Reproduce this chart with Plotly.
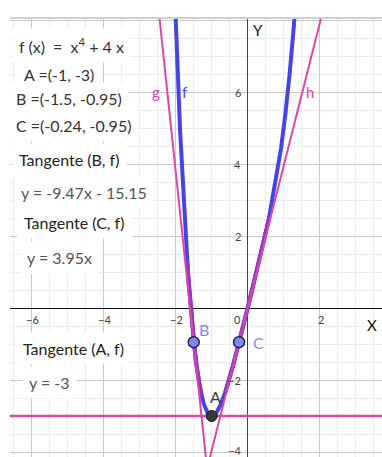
import numpy as np
import plotly.graph_objects as go

# ---- data ----
f_coef = [1, 0, 0, 4, 0]          # f(x) = x^4 + 4x
g_line = (-9.47, -15.15)          # Tangente(B, f): y = -9.47x - 15.15
h_line = (3.95, 0.0)              # Tangente(C, f): y = 3.95x
tA_line = (0.0, -3.0)             # Tangente(A, f): y = -3
pt_names = ["A", "B", "C"]
pt_x = [-1.0, -1.5, -0.24]
pt_y = [-3.0, -0.95, -0.95]
x_ticks = [-6, -4, -2, 0, 2]
y_ticks = [-4, -2, 2, 4, 6]
purple_ranges = [(-1.685, -1.28), (-0.62, 0.6)]

W, H = 382, 457
L, R, T, B = 10, 0, 18, 0
SCALE = 36.0
X0PIX, Y0PIX = 247.7, 308.0
xmin = -(X0PIX - L) / SCALE
xmax = xmin + (W - L - R) / SCALE
ymax = (Y0PIX - T) / SCALE
ymin = ymax - (H - T - B) / SCALE

BLUE = "#4545e6"
PURPLE = "#8a35cc"
PINK = "#dc46a6"
FONT = "Lato, sans-serif"

fig = go.Figure()

xf = np.linspace(-2.2, 1.5, 3000)
yf = np.polyval(f_coef, xf)
fig.add_trace(go.Scatter(x=xf, y=yf, mode="lines", line=dict(color=BLUE, width=4), hoverinfo="skip"))
for a, b in purple_ranges:
    xs = np.linspace(a, b, 400)
    fig.add_trace(go.Scatter(x=xs, y=np.polyval(f_coef, xs), mode="lines",
                             line=dict(color=PURPLE, width=4), hoverinfo="skip"))

xl = np.array([xmin, xmax])
for (m, c), w in [(g_line, 2), (h_line, 2), (tA_line, 2.5)]:
    fig.add_trace(go.Scatter(x=xl, y=m * xl + c, mode="lines", line=dict(color=PINK, width=w), hoverinfo="skip"))

fig.add_trace(go.Scatter(x=pt_x[1:], y=pt_y[1:], mode="markers",
                         marker=dict(size=11, color="#7d8ae8", line=dict(color="#1f1f55", width=1.5))))
fig.add_trace(go.Scatter(x=pt_x[:1], y=pt_y[:1], mode="markers",
                         marker=dict(size=11, color="#3a3a3a", line=dict(color="#1a1a1a", width=1))))

ax_common = dict(showgrid=True, gridcolor="#c9c9c9", gridwidth=1, dtick=2, tick0=0,
                 minor=dict(dtick=0.5, showgrid=True, gridcolor="#ececec", gridwidth=1),
                 zeroline=True, zerolinewidth=1, showticklabels=False, ticks="",
                 showline=False, fixedrange=True)
fig.update_xaxes(range=[xmin, xmax], zerolinecolor="#444", **ax_common)
fig.update_yaxes(range=[ymin, ymax], zerolinecolor="#111", **ax_common)

ann = []
# tick labels
for v in x_ticks:
    txt = str(v).replace("-", "\u2212")
    ann.append(dict(x=v, y=0, xref="x", yref="y", text=txt, showarrow=False,
                    xshift=(-10 if v == 0 else 1), yshift=-11,
                    font=dict(family=FONT, size=11, color="#444")))
for v in y_ticks:
    txt = str(v).replace("-", "\u2212")
    ann.append(dict(x=0, y=v, xref="x", yref="y", text=txt, showarrow=False,
                    xanchor="right", xshift=-5, yshift=(2 if v == -4 else 0),
                    font=dict(family=FONT, size=11, color="#444")))

# axis names
ann.append(dict(x=0, y=ymax, xref="x", yref="y", text="Y", showarrow=False, xanchor="left",
                yanchor="top", xshift=3, yshift=-1, font=dict(family=FONT, size=15, color="#111")))
ann.append(dict(x=xmax, y=0, xref="x", yref="y", text="X", showarrow=False, xanchor="right",
                yanchor="top", xshift=-3, yshift=-6, font=dict(family=FONT, size=15, color="#111")))
# y-axis arrow
ann.append(dict(x=0, y=ymax + 0.1, xref="x", yref="y", ax=0, ay=12, text=" ", showarrow=True,
                arrowhead=2, arrowsize=0.9, arrowwidth=1, arrowcolor="#111",
                font=dict(family=FONT, size=2)))

# curve labels
for txt, xv, yv, col in [("g", -2.55, 6, PINK), ("f", -1.75, 6, BLUE), ("h", 1.72, 6, PINK)]:
    ann.append(dict(x=xv, y=yv, xref="x", yref="y", text=txt, showarrow=False,
                    font=dict(family=FONT, size=15, color=col)))

# point labels
for i, (dx, dy, col) in enumerate([(4, 20, "#3a3a3a"), (10, 13, "#8a8ae6"), (19, 0, "#8a8ae6")]):
    ann.append(dict(x=pt_x[i], y=pt_y[i], xref="x", yref="y", text=pt_names[i], showarrow=False,
                    xshift=dx, yshift=dy, font=dict(family=FONT, size=16, color=col)))

# algebra text boxes
def PX(p):
    return (p - L) / (W - L - R)

def PY(p):
    return 1 - (p - T) / (H - T - B)

f_txt = "f (x)  =  x<sup>4</sup> + 4 x"
boxes = [
    (f_txt, 18, 45, "#333"),
    ("A =(-1, -3)", 23, 74, "#333"),
    ("B =(-1.5, -0.95)", 15, 98, "#333"),
    ("C =(-0.24, -0.95)", 15, 126, "#333"),
    ("Tangente (B, f)", 18, 159, "#222"),
    ("y = -9.47x - 15.15", 20, 192, "#555"),
    ("Tangente (C, f)", 23, 222, "#222"),
    ("y = 3.95x", 26, 257, "#555"),
    ("Tangente (A, f)", 22, 348, "#222"),
    ("y = -3", 28, 382, "#555"),
]
for txt, lx, cy, col in boxes:
    ann.append(dict(x=PX(lx - 6), y=PY(cy), xref="paper", yref="paper", text=txt, showarrow=False,
                    xanchor="left", yanchor="middle", bgcolor="rgba(255,255,255,0.96)", borderpad=6,
                    font=dict(family=FONT, size=16, color=col)))

fig.update_layout(
    width=W, height=H, margin=dict(l=L, r=R, t=T, b=B, pad=0),
    paper_bgcolor="white", plot_bgcolor="white", showlegend=False,
    annotations=ann,
    shapes=[dict(type="line", xref="paper", yref="paper", x0=0, x1=1, y0=1, y1=1,
                 line=dict(color="#cfcfcf", width=2))],
)

fig.write_html("out.html", config={"displayModeBar": False},
               post_script="document.body.style.margin='0';document.body.style.padding='0';")
